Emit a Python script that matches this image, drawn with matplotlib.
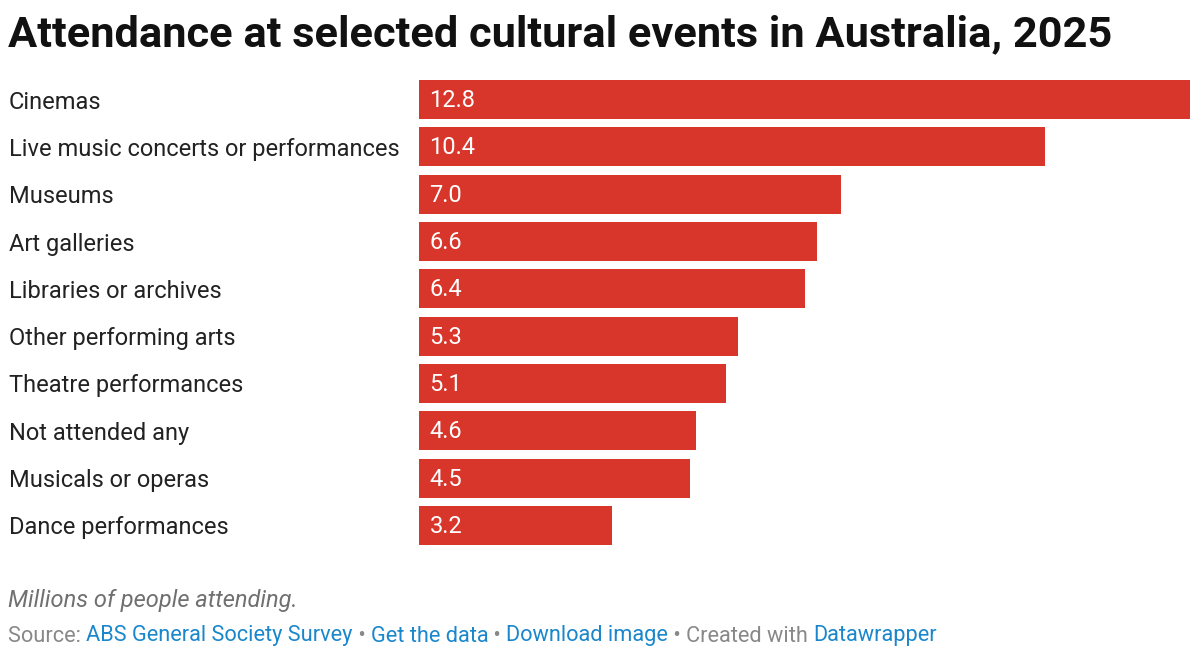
import matplotlib.pyplot as plt

plt.rcParams['font.family'] = ['Roboto', 'DejaVu Sans']

categories = ['Cinemas', 'Live music concerts or performances', 'Museums',
              'Art galleries', 'Libraries or archives', 'Other performing arts',
              'Theatre performances', 'Not attended any', 'Musicals or operas',
              'Dance performances']
values = [12.8, 10.4, 7.0, 6.6, 6.4, 5.3, 5.1, 4.6, 4.5, 3.2]

W, H = 1200, 654
fig = plt.figure(figsize=(W / 100, H / 100), dpi=100)

# axes placed in pixel units
left, right, top, bottom = 419, 1190, 75.9, 549.1
ax = fig.add_axes([left / W, 1 - bottom / H, (right - left) / W, (bottom - top) / H])

bar_color = '#d9362b'
y = list(range(len(categories)))
ax.barh(y, values, height=0.825, color=bar_color)
ax.set_xlim(0, 12.8)
ax.set_ylim(len(categories) - 0.5, -0.5)

for yi, v in zip(y, values):
    ax.annotate(f'{v:.1f}', (0, yi), xytext=(7.5, -0.7), textcoords='offset points',
                color='white', fontsize=17, va='center', ha='left')

ax.set_yticks(y)
ax.set_yticklabels(categories, fontsize=17, color='#222222', ha='left')
for lab in ax.get_yticklabels():
    lab.set_y(lab.get_position()[1])
ax.tick_params(axis='y', length=0, pad=(left - 9) * 0.72)
ax.set_xticks([])
for s in ax.spines.values():
    s.set_visible(False)

fig.text(8 / W, 1 - 35 / H, 'Attendance at selected cultural events in Australia, 2025',
         fontsize=31.2, fontweight='bold', color='#111111', va='center', ha='left')

fig.text(8 / W, 1 - 600 / H, 'Millions of people attending.', fontsize=17,
         style='italic', color='#707070', va='center', ha='left')

# source line with links
parts = [('Source: ', '#888888'), ('ABS General Society Survey', '#1a87cc'),
         (' • ', '#888888'), ('Get the data', '#1a87cc'), (' • ', '#888888'),
         ('Download image', '#1a87cc'), (' • Created with ', '#888888'),
         ('Datawrapper', '#1a87cc')]
fig.canvas.draw()
renderer = fig.canvas.get_renderer()
x = 8
for txt, col in parts:
    t = fig.text(x / W, 1 - 636 / H, txt, fontsize=15.65, color=col, va='center', ha='left')
    bb = t.get_window_extent(renderer=renderer)
    x += bb.width

fig.savefig('out.png', dpi=100)
